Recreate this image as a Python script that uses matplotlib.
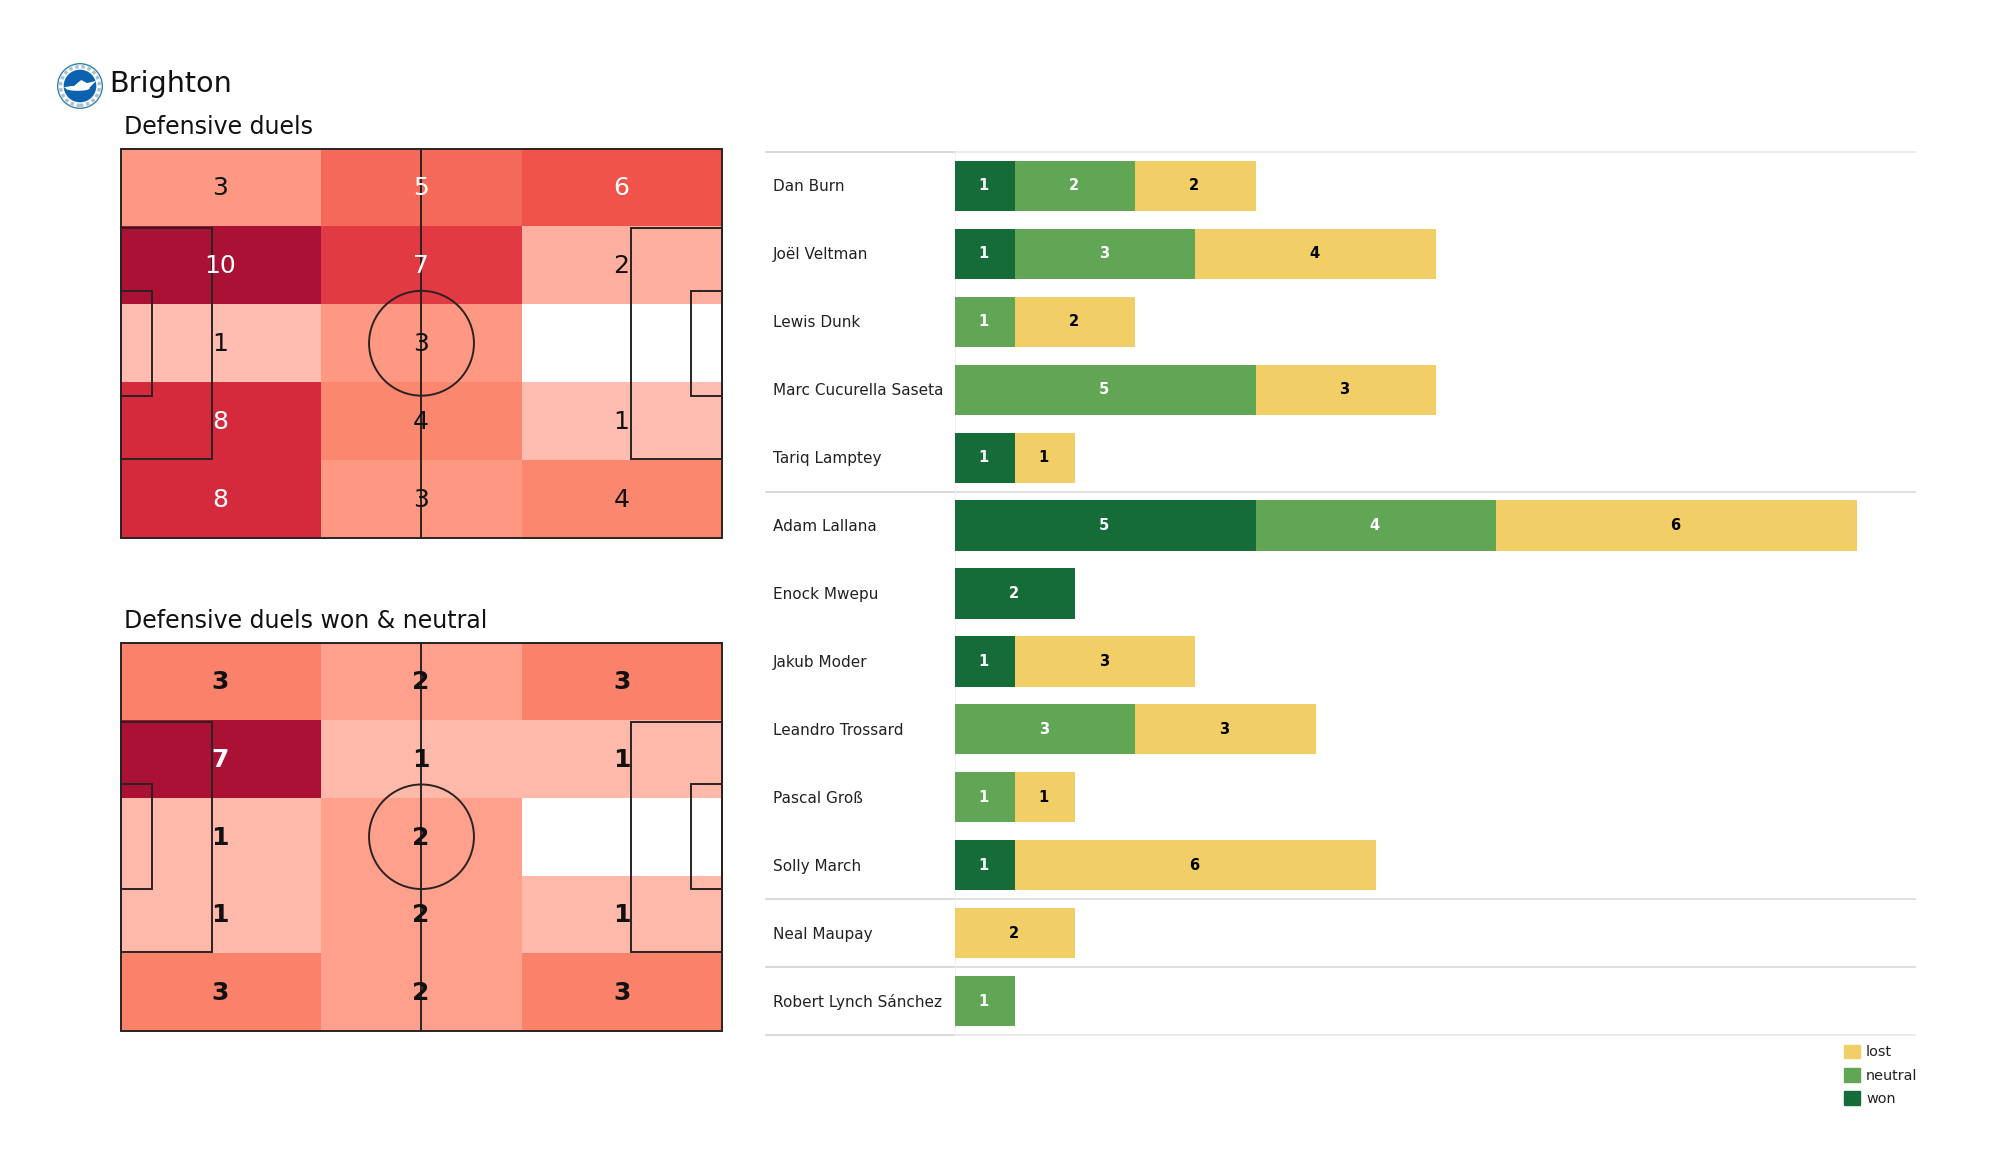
import matplotlib
matplotlib.use("Agg")
import matplotlib.pyplot as plt
import numpy as np
from matplotlib.colors import LinearSegmentedColormap
from matplotlib.patches import Rectangle, Circle, Ellipse, Polygon, Patch

W, H = 2000, 1175

team = "Brighton"
title_all = "Defensive duels"
title_won = "Defensive duels won & neutral"

duels_all = [[3, 5, 6], [10, 7, 2], [1, 3, 0], [8, 4, 1], [8, 3, 4]]
duels_won = [[3, 2, 3], [7, 1, 1], [1, 2, 0], [1, 2, 1], [3, 2, 3]]

players = ["Dan Burn", "Joël Veltman", "Lewis Dunk", "Marc Cucurella Saseta", "Tariq Lamptey",
           "Adam Lallana", "Enock Mwepu", "Jakub Moder", "Leandro Trossard", "Pascal Groß",
           "Solly March", "Neal Maupay", "Robert Lynch Sánchez"]
won =     [1, 1, 0, 0, 1, 5, 2, 1, 0, 0, 1, 0, 0]
neutral = [2, 3, 1, 5, 0, 4, 0, 0, 3, 1, 0, 0, 1]
lost =    [2, 4, 2, 3, 1, 6, 0, 3, 3, 1, 6, 2, 0]
group_ends = [5, 11, 12, 13]

C_WON, C_NEU, C_LOST = "#156c38", "#60a655", "#f2cf66"

cmap = LinearSegmentedColormap.from_list("heat", [
    (0.0, "#ffffff"), (0.02, "#ffc8bd"), (0.1, "#ffbcb0"), (0.143, "#ffb9ab"), (0.29, "#fe9f8b"),
    (0.3, "#fe9681"), (0.43, "#fb826a"), (0.5, "#f4695a"), (0.6, "#ef5349"),
    (0.7, "#e23a42"), (0.8, "#d42a3c"), (1.0, "#ab1035")])


def px_axes(fig, x0, y0, x1, y1):
    return fig.add_axes([x0 / W, 1 - y1 / H, (x1 - x0) / W, (y1 - y0) / H])


def draw_pitch(ax, grid, bold):
    grid = np.array(grid)
    ax.pcolormesh(np.linspace(0, 105, 4), np.linspace(68, 0, 6), grid, cmap=cmap,
                  vmin=0, vmax=grid.max(), shading="flat", zorder=1, linewidth=0)
    lc = "#2a2222"
    lw = 1.4
    ax.add_patch(Rectangle((0, 0), 105, 68, fill=False, ec=lc, lw=lw, zorder=3))
    ax.plot([52.5, 52.5], [0, 68], color=lc, lw=lw, zorder=3)
    ax.add_patch(Circle((52.5, 34), 9.15, fill=False, ec=lc, lw=lw, zorder=3))
    for x, w1, w2 in [(0, 16, 5.5), (105, -16, -5.5)]:
        ax.add_patch(Rectangle((x, 34 - 20.15), w1, 40.3, fill=False, ec=lc, lw=lw, zorder=3))
        ax.add_patch(Rectangle((x, 34 - 9.15), w2, 18.3, fill=False, ec=lc, lw=lw, zorder=3))
    for r in range(5):
        for c in range(3):
            v = grid[r, c]
            if v == 0:
                continue
            col = "white" if v / grid.max() >= 0.5 else "#111111"
            ax.text(17.5 + 35 * c - 0.1, 68 - 6.8 - 13.6 * r - 0.15, str(v), ha="center", va="center",
                    fontsize=18, color=col, fontweight="bold" if bold else "normal", zorder=4)
    ax.set_xlim(0, 105)
    ax.set_ylim(0, 68)
    ax.axis("off")
    for a in ax.patches + ax.lines:
        a.set_clip_on(False)


fig = plt.figure(figsize=(20, 11.75), dpi=100, facecolor="white")

ax1 = px_axes(fig, 120.5, 148.5, 722.5, 538)
draw_pitch(ax1, duels_all, False)
ax2 = px_axes(fig, 120.5, 642.5, 722.5, 1031)
draw_pitch(ax2, duels_won, True)

fig.text(124 / W, 1 - 126.5 / H, title_all, fontsize=17, ha="left", va="center", color="#111111")
fig.text(124 / W, 1 - 620.5 / H, title_won, fontsize=17, ha="left", va="center", color="#111111")
fig.text(109 / W, 1 - 84.5 / H, team, fontsize=20.6, ha="left", va="center", color="#111111")

# badge
lg = px_axes(fig, 56, 62, 104, 110)
lg.set_xlim(-1, 1)
lg.set_ylim(-1, 1)
lg.axis("off")
lg.add_patch(Circle((0, 0), 0.93, fc="white", ec="#3a83ad", lw=1.0))
lg.add_patch(Circle((0, 0), 0.81, fill=False, ec="#a9c3d4", lw=2.5, ls=(0, (1, 0.8))))
lg.add_patch(Circle((0, 0), 0.68, fc="#0a62b0", ec="none"))
lg.add_patch(Ellipse((-0.1, -0.1), 1.0, 0.2, fc="white", ec="none"))
lg.add_patch(Polygon([(-0.72, -0.05), (-0.25, 0.0), (0.05, 0.25), (0.3, 0.12), (0.68, 0.22), (0.35, -0.12), (-0.3, -0.14)],
                     fc="white", ec="none"))

# bars
x_left, x_zero, x_right, unit = 766, 955, 1915, 60.1
bx = px_axes(fig, x_left, 152, x_right, 1035)
n = len(players)
y = np.arange(n)
won_a, neu_a, lost_a = map(np.array, (won, neutral, lost))
h = 0.74
bx.barh(y, won_a, height=h, color=C_WON, label="won", zorder=2)
bx.barh(y, neu_a, left=won_a, height=h, color=C_NEU, label="neutral", zorder=2)
bx.barh(y, lost_a, left=won_a + neu_a, height=h, color=C_LOST, label="lost", zorder=2)
bx.set_xlim((x_left - x_zero) / unit, (x_right - x_zero) / unit)
bx.set_ylim(n - 0.5, -0.5)
bx.axis("off")

lab_x = (773 - x_zero) / unit
for i in range(n):
    bx.text(lab_x, i + 0.015, players[i], ha="left", va="center", fontsize=11, color="#222222")
    left = 0
    for vals, col in ((won, "white"), (neutral, "white"), (lost, "black")):
        v = vals[i]
        if v:
            bx.text(left + v / 2 - 0.025, i, str(v), ha="center", va="center", fontsize=10.5,
                    fontweight="bold", color=col, zorder=3)
        left += v

for e in [0] + group_ends:
    bx.plot([(x_left - x_zero) / unit, 0], [e - 0.5, e - 0.5], color="#d6d6d6", lw=1.3, zorder=1, clip_on=False)
    bx.plot([0, (x_right - x_zero) / unit], [e - 0.5, e - 0.5],
            color="#d6d6d6" if e in group_ends[:3] else "#e6e6e6", lw=1.1, zorder=1, clip_on=False)
bx.plot([0, 0], [-0.5, n - 0.5], color="#f0f0f0", lw=0.8, zorder=1)

handles = [Patch(color=C_LOST, label="lost"), Patch(color=C_NEU, label="neutral"), Patch(color=C_WON, label="won")]
fig.legend(handles=handles, loc="upper left", bbox_to_anchor=(1844 / W, 1 - 1044.5 / H), frameon=False,
           fontsize=10.4, handlelength=1.1, handleheight=1.1, labelspacing=0.58, handletextpad=0.42,
           borderpad=0, borderaxespad=0, labelcolor="#222222")

fig.savefig("out.png", dpi=100, facecolor="white")
